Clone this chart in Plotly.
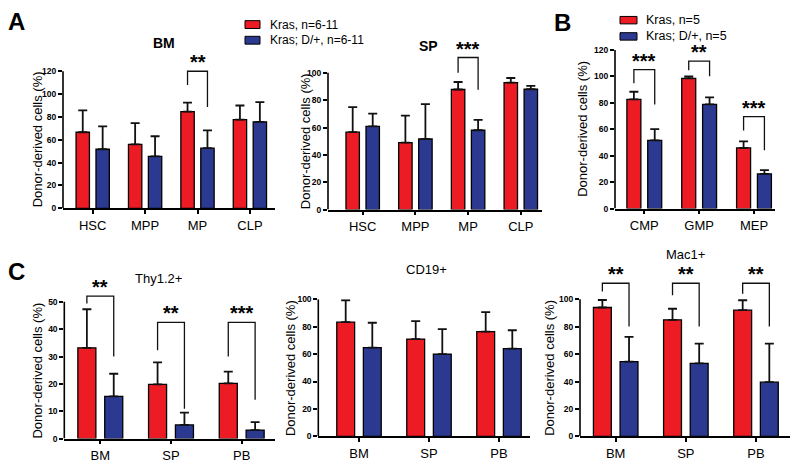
import plotly.graph_objects as go

W, H = 800, 470
RED = "#ED1C24"
BLUE = "#2B3990"
FONT = "Liberation Sans, Arial, Helvetica, sans-serif"

# ---------------- data ----------------
cats_A = ["HSC", "MPP", "MP", "CLP"]
bm_kras = [66.6, 56.0, 84.6, 77.7]
bm_kras_err = [19.1, 18.6, 8.0, 12.3]
bm_dplus = [51.7, 45.4, 52.6, 75.7]
bm_dplus_err = [20.0, 17.7, 15.7, 17.2]

sp_kras = [56.6, 48.9, 87.8, 92.8]
sp_kras_err = [18.3, 19.8, 5.5, 3.4]
sp_dplus = [60.9, 51.6, 58.0, 88.0]
sp_dplus_err = [9.3, 25.5, 7.6, 2.5]

cats_B = ["CMP", "GMP", "MEP"]
b_kras = [82.7, 98.5, 45.9]
b_kras_err = [5.7, 1.5, 5.0]
b_dplus = [51.6, 78.8, 26.2]
b_dplus_err = [8.6, 5.4, 2.9]

cats_C = ["BM", "SP", "PB"]
thy_kras = [33.2, 19.8, 20.2]
thy_kras_err = [14.1, 8.1, 4.3]
thy_dplus = [15.4, 5.0, 3.1]
thy_dplus_err = [8.3, 4.5, 2.9]

cd19_kras = [83.3, 71.0, 76.4]
cd19_kras_err = [16.0, 13.0, 14.3]
cd19_dplus = [64.8, 60.0, 64.0]
cd19_dplus_err = [18.1, 18.3, 13.4]

mac_kras = [94.0, 85.0, 92.1]
mac_kras_err = [5.5, 8.1, 7.2]
mac_dplus = [54.5, 53.3, 39.5]
mac_dplus_err = [18.1, 14.3, 28.1]

# significance brackets: (category index, label, top, left leg end, right leg end)
bm_sig = [(2, "**", 120, 108, 88.6)]
sp_sig = [(2, "***", 111.2, 100, 87.6)]
b_sig = [(0, "***", 105.2, 94.8, 78.8), (1, "**", 111.6, 104.7, 100.2), (2, "***", 69.6, 59, 44.2)]
thy_sig = [(0, "**", 52.1, 49.4, 30), (1, "**", 42.5, 32.3, 10.9), (2, "***", 42.5, 30, 14.2)]
mac_sig = [(0, "**", 111.7, 105.7, 80.2), (1, "**", 111.7, 102.9, 80.2), (2, "**", 111.7, 104, 80.2)]

ticks_120 = [0, 20, 40, 60, 80, 100, 120]
ticks_100 = [0, 20, 40, 60, 80, 100]
ticks_50 = [0, 10, 20, 30, 40, 50]

# ---------------- layout geometry (pixels) ----------------
panels = [
    dict(cats=cats_A, k=bm_kras, ke=bm_kras_err, d=bm_dplus, de=bm_dplus_err, sig=bm_sig,
         ticks=ticks_120, ymax=120, ytop=125, px0=63, px1=275, xc0=92.7, dx=52.4,
         py0=207.7, pymax=67.7, toff=25.5),
    dict(cats=cats_A, k=sp_kras, ke=sp_kras_err, d=sp_dplus, de=sp_dplus_err, sig=sp_sig,
         ticks=ticks_100, ymax=100, ytop=115, px0=328, px1=542, xc0=362.7, dx=52.7,
         py0=209, pymax=69.3, toff=23),
    dict(cats=cats_B, k=b_kras, ke=b_kras_err, d=b_dplus, de=b_dplus_err, sig=b_sig,
         ticks=ticks_120, ymax=120, ytop=120, px0=615, px1=775, xc0=644.3, dx=54.85,
         py0=208, pymax=46, toff=32.5),
    dict(cats=cats_C, k=thy_kras, ke=thy_kras_err, d=thy_dplus, de=thy_dplus_err, sig=thy_sig,
         ticks=ticks_50, ymax=50, ytop=55, px0=64.3, px1=275, xc0=100.3, dx=70.7,
         py0=443, pymax=303.3, toff=27),
    dict(cats=cats_C, k=cd19_kras, ke=cd19_kras_err, d=cd19_dplus, de=cd19_dplus_err, sig=[],
         ticks=ticks_100, ymax=100, ytop=100, px0=318.3, px1=530, xc0=359, dx=70,
         py0=440.7, pymax=300.7, toff=27),
    dict(cats=cats_C, k=mac_kras, ke=mac_kras_err, d=mac_dplus, de=mac_dplus_err, sig=mac_sig,
         ticks=ticks_100, ymax=100, ytop=115, px0=580, px1=790, xc0=615.7, dx=70.15,
         py0=440.7, pymax=300.7, toff=30),
]

BW = 0.255   # bar width (category units)
OFF = 0.19   # centre offset of each bar from category centre

fig = go.Figure()
shapes = []
annotations = []
layout = {}

for i, p in enumerate(panels, start=1):
    xa = "x" if i == 1 else f"x{i}"
    ya = "y" if i == 1 else f"y{i}"
    n = len(p["cats"])
    errline = dict(color="#111111", thickness=1.8, width=4.5)
    fig.add_trace(go.Bar(
        x=p["cats"], y=p["k"], width=BW, offset=-OFF - BW / 2,
        marker=dict(color=RED, line=dict(color="black", width=1.3)),
        error_y=dict(type="data", symmetric=False, array=p["ke"], arrayminus=[0] * n, **errline),
        xaxis=xa, yaxis=ya, showlegend=False, name="Kras"))
    fig.add_trace(go.Bar(
        x=p["cats"], y=p["d"], width=BW, offset=OFF - BW / 2,
        marker=dict(color=BLUE, line=dict(color="black", width=1.3)),
        error_y=dict(type="data", symmetric=False, array=p["de"], arrayminus=[0] * n, **errline),
        xaxis=xa, yaxis=ya, showlegend=False, name="Kras; D/+"))

    # axis geometry
    xr0 = -(p["xc0"] - p["px0"]) / p["dx"]
    xr1 = (n - 1) + (p["px1"] - (p["xc0"] + (n - 1) * p["dx"])) / p["dx"]
    scale = (p["py0"] - p["pymax"]) / p["ymax"]
    pytop = p["py0"] - p["ytop"] * scale
    layout["xaxis" if i == 1 else f"xaxis{i}"] = dict(
        domain=[p["px0"] / W, p["px1"] / W], anchor=ya, range=[xr0, xr1],
        showline=True, linecolor="black", linewidth=1.6, ticks="outside", ticklen=4,
        tickwidth=1.5, tickcolor="black", showgrid=False, zeroline=False,
        tickfont=dict(family=FONT, size=13, color="black"), fixedrange=True)
    layout["yaxis" if i == 1 else f"yaxis{i}"] = dict(
        domain=[1 - p["py0"] / H, 1 - pytop / H], anchor=xa, range=[0, p["ytop"]],
        showline=False, ticks="outside", ticklen=4, tickwidth=1.5, tickcolor="black",
        tickvals=p["ticks"], showgrid=False, zeroline=False,
        tickfont=dict(family=FONT, size=8.5, color="black", weight="bold"), fixedrange=True)

    # y axis line, only up to the last tick
    shapes.append(dict(type="line", xref=f"{xa} domain", yref=ya, x0=0, x1=0, y0=0, y1=p["ymax"],
                       line=dict(color="black", width=1.6)))
    # y axis title
    annotations.append(dict(text="Donor-derived cells (%)", textangle=-90, xref="paper",
                            x=p["px0"] / W, xshift=-p["toff"], xanchor="center", yref=ya,
                            y=p["ymax"] / 2, yanchor="middle", showarrow=False,
                            font=dict(family=FONT, size=13, color="black")))
    # significance brackets
    for (ci, lab, top, lb, rb) in p["sig"]:
        path = f"M {ci - OFF},{lb} L {ci - OFF},{top} L {ci + OFF},{top} L {ci + OFF},{rb}"
        shapes.append(dict(type="path", xref=xa, yref=ya, path=path,
                           line=dict(color="#111111", width=1.3)))
        annotations.append(dict(text=lab, xref=xa, yref=ya, x=ci, y=top, yanchor="middle",
                                yshift=9, showarrow=False,
                                font=dict(family=FONT, size=20, color="black", weight="bold")))

# panel letters and titles
def txt(t, x, y, size, bold=False, anchor="center"):
    annotations.append(dict(text=t, xref="paper", yref="paper", x=x / W, y=1 - y / H,
                            xanchor=anchor, yanchor="middle", showarrow=False,
                            font=dict(family=FONT, size=size, color="black",
                                      weight="bold" if bold else "normal")))

txt("A", 16, 17, 24, True)
txt("B", 562, 17.5, 24, True)
txt("C", 16, 272, 24, True)
txt("BM", 163.5, 39, 14, True)
txt("SP", 428, 42, 14, True)
txt("Thy1.2+", 158, 279, 13)
txt("CD19+", 426, 270, 13)
txt("Mac1+", 685, 255, 13)

# legends
def legend_item(x0, y0, w, h, color, label, tx, size):
    shapes.append(dict(type="rect", xref="paper", yref="paper", x0=x0 / W, x1=(x0 + w) / W,
                       y0=1 - (y0 + h) / H, y1=1 - y0 / H, fillcolor=color,
                       line=dict(color="black", width=1)))
    txt(label, tx, y0 + h / 2, size, anchor="left")

legend_item(245, 16, 15, 8, RED, "Kras, n=6-11", 268, 12)
legend_item(245, 32, 15, 8, BLUE, "Kras; D/+, n=6-11", 268, 12)
legend_item(620, 11.7, 17, 7.6, RED, "Kras, n=5", 644, 12.5)
legend_item(620, 28.3, 17, 7.6, BLUE, "Kras; D/+, n=5", 644, 12.5)

fig.update_layout(
    width=W, height=H, margin=dict(l=0, r=0, t=0, b=0),
    paper_bgcolor="white", plot_bgcolor="white", barmode="overlay",
    shapes=shapes, annotations=annotations, showlegend=False,
    font=dict(family=FONT, color="black"), **layout)

fig.write_html("out.html", config={"displayModeBar": False},
               post_script="document.body.style.margin='0';document.body.style.overflow='hidden';")
